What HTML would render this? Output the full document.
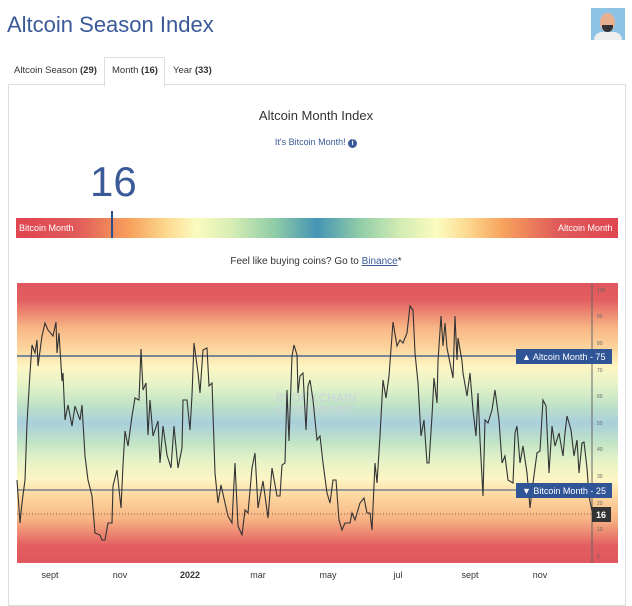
<!DOCTYPE html>
<html><head><meta charset="utf-8"><style>
body{margin:0;width:632px;height:599px;background:#fff;font-family:"Liberation Sans",sans-serif;position:relative;overflow:hidden}
.a{position:absolute}
</style></head><body>
<div class="a" style="left:7px;top:12px;font-size:22px;color:#3a5a98">Altcoin Season Index</div>
<div class="a" style="left:591px;top:8px;width:34px;height:32px;background:#8fc3e6;overflow:hidden">
 <div class="a" style="left:9px;top:5px;width:15px;height:19px;border-radius:50%;background:#e8b090"></div>
 <div class="a" style="left:11px;top:17px;width:11px;height:7px;border-radius:0 0 6px 6px;background:#333"></div>
 <div class="a" style="left:3px;top:24px;width:28px;height:10px;border-radius:8px 8px 0 0;background:#eee"></div>
</div>
<div class="a" style="left:8px;top:84px;width:616px;height:520px;border:1px solid #ddd"></div>
<div class="a" style="left:104px;top:57px;width:59px;height:28px;border:1px solid #ddd;border-bottom:1px solid #fff;background:#fff"></div>
<div class="a" style="left:14px;top:65px;font-size:9.5px;color:#333">Altcoin Season <b>(29)</b></div>
<div class="a" style="left:112px;top:65px;font-size:9.5px;color:#333">Month <b>(16)</b></div>
<div class="a" style="left:173px;top:65px;font-size:9.5px;color:#333">Year <b>(33)</b></div>
<div class="a" style="left:0;width:632px;top:108px;text-align:center;font-size:13px;color:#333">Altcoin Month Index</div>
<div class="a" style="left:0;width:632px;top:137px;text-align:center;font-size:9px;color:#3a5a98">It's Bitcoin Month! <span style="display:inline-block;width:9px;height:9px;border-radius:50%;background:#3a5a98;color:#fff;font-size:7px;line-height:9px;font-weight:bold">i</span></div>
<div class="a" style="left:90px;top:158px;font-size:42px;color:#3a5a98">16</div>
<div class="a" style="left:16px;top:218px;width:602px;height:20px;background:linear-gradient(to right,#e0454f 0%,#e05a5a 10%,#f7a25c 19%,#fcd98f 25%,#fbfbc0 30%,#d5edb3 36%,#8fcca8 43%,#4594b5 50%,#8fcca8 57%,#d5edb3 64%,#fbfbc0 70%,#fcd98f 75%,#f7a25c 81%,#e05a5a 90%,#e0454f 100%)"></div>
<div class="a" style="left:19px;top:223px;font-size:9px;color:#fff">Bitcoin Month</div>
<div class="a" style="left:558px;top:223px;font-size:9px;color:#fff">Altcoin Month</div>
<div class="a" style="left:111px;top:211px;width:2px;height:27px;background:#2c4f8a"></div>
<div class="a" style="left:0;width:632px;top:256px;text-align:center;font-size:10px;color:#333">Feel like buying coins? Go to <u style="color:#3a5a98">Binance</u>*</div>
<svg class="a" style="left:0;top:0" width="632" height="599">
<defs><linearGradient id="g" x1="0" y1="283" x2="0" y2="563" gradientUnits="userSpaceOnUse">
<stop offset="0" stop-color="#e0575d"/><stop offset="0.06" stop-color="#e25e60"/><stop offset="0.16" stop-color="#f8b686"/><stop offset="0.24" stop-color="#fdd8a0"/><stop offset="0.3" stop-color="#fdf6c4"/><stop offset="0.37" stop-color="#e3f2c8"/><stop offset="0.43" stop-color="#c2e4c6"/><stop offset="0.5" stop-color="#a9cfdc"/><stop offset="0.57" stop-color="#c2e4c6"/><stop offset="0.63" stop-color="#e3f2c8"/><stop offset="0.7" stop-color="#fdf6c4"/><stop offset="0.76" stop-color="#fdd8a0"/><stop offset="0.84" stop-color="#f8b686"/><stop offset="0.94" stop-color="#e25e60"/><stop offset="1" stop-color="#e0575d"/></linearGradient></defs>
<rect x="17" y="283" width="601" height="280" fill="url(#g)"/>
<text x="316" y="402" font-size="12" fill="#c8d4dc" text-anchor="middle" font-weight="bold" opacity="0.7">BLOCKCHAIN</text>
<text x="316" y="414" font-size="12" fill="#c8d4dc" text-anchor="middle" font-weight="bold" opacity="0.7">CENTER.NET</text>
<line x1="17" y1="356" x2="592" y2="356" stroke="#2c4f8a" stroke-width="1.2"/>
<line x1="17" y1="490" x2="592" y2="490" stroke="#999" stroke-width="2"/>
<line x1="17" y1="514" x2="592" y2="514" stroke="#8a5a40" stroke-width="1" stroke-dasharray="1,2"/>
<line x1="592" y1="283" x2="592" y2="563" stroke="#666" stroke-width="1"/>
<g font-size="5" fill="#666">
<text x="597" y="292">100</text><text x="597" y="318">90</text><text x="597" y="345">80</text><text x="597" y="372">70</text><text x="597" y="398">60</text><text x="597" y="425">50</text><text x="597" y="451">40</text><text x="597" y="478">30</text><text x="597" y="505">20</text><text x="597" y="531">10</text><text x="597" y="558">0</text>
</g>
<polyline fill="none" stroke="#333" stroke-width="1.1" points="17,480 20,523 22,503 25,480 27,423 30,373 32,345 35,353 37,340 38,366 42,336 45,323 48,330 53,336 56,322 57,353 59,333 62,381 63,373 65,420 68,405 72,426 75,406 80,420 82,405 85,456 88,480 92,496 95,533 100,535 102,540 105,540 108,523 112,523 113,486 117,470 121,508 123,465 125,431 128,446 132,416 135,398 139,400 141,349 143,390 146,383 148,435 150,400 153,436 158,421 160,463 163,426 167,455 171,468 174,426 178,468 182,448 183,400 187,400 190,430 192,395 194,343 198,373 200,393 203,350 207,348 209,386 212,383 215,473 218,503 221,485 225,503 228,516 232,523 235,463 238,526 242,535 245,510 248,513 252,468 255,453 258,508 263,481 268,518 272,468 277,496 280,496 282,465 285,463 287,390 289,441 292,356 294,345 297,355 298,393 300,376 303,373 306,430 308,386 310,380 313,400 317,440 320,436 323,463 327,493 330,503 333,480 336,480 339,520 342,530 345,523 350,523 352,513 355,520 360,503 364,498 367,513 370,513 372,530 375,463 377,483 380,436 383,380 386,398 389,376 393,322 397,346 400,340 403,343 407,333 410,306 413,310 415,353 418,383 421,436 424,420 427,463 429,463 432,416 434,378 437,403 438,361 441,316 443,346 445,323 447,348 450,363 453,378 455,316 457,360 458,338 462,361 463,373 467,396 470,373 473,410 476,436 478,393 480,440 483,496 485,420 488,423 492,410 495,390 499,420 502,463 505,456 508,480 513,483 515,433 517,426 520,463 523,446 527,473 530,508 533,483 537,453 540,451 543,400 546,406 549,473 552,426 555,446 559,433 563,456 565,433 567,416 571,430 574,456 577,440 579,473 582,443 584,442 587,468 589,496 592,511"/>
<rect x="516" y="349" width="96" height="15" fill="#2f5597"/>
<text x="522" y="360" font-size="9" fill="#fff">▲ Altcoin Month - 75</text>
<rect x="516" y="483" width="96" height="15" fill="#2f5597"/>
<text x="522" y="494" font-size="9" fill="#fff">▼ Bitcoin Month - 25</text>
<rect x="592" y="507" width="19" height="15" fill="#333"/>
<text x="596" y="518" font-size="9" fill="#fff" font-weight="bold">16</text>
<g font-size="9" fill="#333" text-anchor="middle">
<text x="50" y="578">sept</text><text x="120" y="578">nov</text><text x="190" y="578" font-weight="bold">2022</text><text x="258" y="578">mar</text><text x="328" y="578">may</text><text x="398" y="578">jul</text><text x="470" y="578">sept</text><text x="540" y="578">nov</text>
</g>
</svg>
</body></html>
